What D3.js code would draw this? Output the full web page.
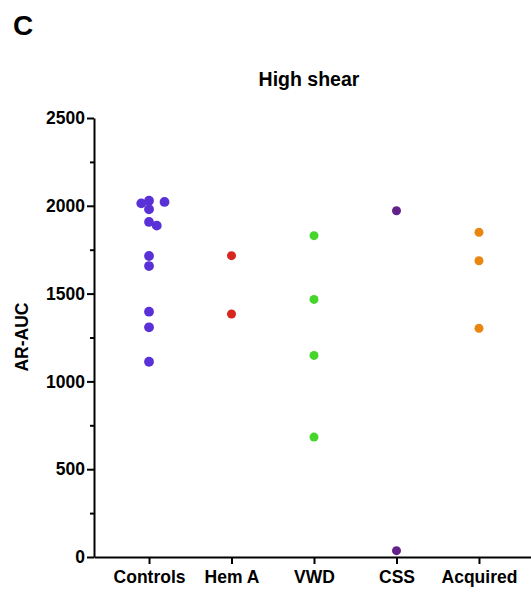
<!DOCTYPE html>
<html>
<head>
<meta charset="utf-8">
<script src="https://cdn.jsdelivr.net/npm/d3@7"></script>
<style>
  html, body { margin: 0; padding: 0; background: #fff; }
  svg { display: block; }
  text { font-family: "Liberation Sans", Arial, sans-serif; font-weight: bold; fill: #000; }
</style>
</head>
<body>
<svg id="chart" width="531" height="592"></svg>
<script>
// Groups on the x axis
const categories = ["Controls", "Hem A", "VWD", "CSS", "Acquired"];

// AR-AUC per subject, one array per group
const controls = [2029, 2022, 2014, 1980, 1908, 1887, 1714, 1657, 1397, 1308, 1112];
const hemA = [1716, 1384];
const vwd = [1830, 1467, 1148, 683];
const css = [1972, 36];
const acquired = [1849, 1687, 1302];

const groupValues = [controls, hemA, vwd, css, acquired];
const groupColors = ["#5a31d6", "#d6261d", "#46d62b", "#65218a", "#e8860f"];

// Axis ticks
const yTicks = [0, 500, 1000, 1500, 2000, 2500];
const yMinorTicks = [250, 750, 1250, 1750, 2250];

const svg = d3.select("#chart");

const x = d3.scalePoint()
  .domain(categories)
  .range([94, 534])
  .padding(0.667);

const y = d3.scaleLinear()
  .domain([0, 2500])
  .range([557, 118]);

// Panel letter and title
svg.append("text")
  .attr("x", 13).attr("y", 35)
  .style("font-size", "28px")
  .text("C");

svg.append("text")
  .attr("x", 309).attr("y", 86)
  .attr("text-anchor", "middle")
  .style("font-size", "19.5px")
  .text("High shear");

// Y axis with major and minor ticks
const yAxis = svg.append("g")
  .attr("transform", "translate(94,0)")
  .call(d3.axisLeft(y).tickValues(yTicks).tickFormat(d3.format("d"))
    .tickSize(7).tickSizeOuter(0).tickPadding(2));
yAxis.select(".domain").attr("stroke-width", 2);
yAxis.selectAll(".tick line").attr("stroke-width", 2);
yAxis.selectAll(".tick text")
  .style("font-size", "17.5px")
  .style("font-family", "'Liberation Sans', Arial, sans-serif")
  .style("font-weight", "bold");

const yMinor = svg.append("g")
  .attr("transform", "translate(94,0)")
  .call(d3.axisLeft(y).tickValues(yMinorTicks).tickSize(4).tickFormat(""));
yMinor.select(".domain").remove();
yMinor.selectAll(".tick line").attr("stroke-width", 2);

// X axis
const xAxis = svg.append("g")
  .attr("transform", "translate(0,557)")
  .call(d3.axisBottom(x).tickSize(7).tickSizeOuter(0));
xAxis.select(".domain").attr("stroke-width", 2);
xAxis.selectAll(".tick line").attr("stroke-width", 2);
xAxis.selectAll(".tick text")
  .attr("y", 26).attr("dy", 0)
  .style("font-size", "17.5px")
  .style("font-family", "'Liberation Sans', Arial, sans-serif")
  .style("font-weight", "bold");

// Y axis title
svg.append("text")
  .attr("transform", "translate(28,337) rotate(-90)")
  .attr("text-anchor", "middle")
  .style("font-size", "17.5px")
  .text("AR-AUC");

// Simple deterministic swarm: spread overlapping points sideways
const stepX = 7.75, minDist = 8;
function swarm(values, cx) {
  const placed = [];
  const out = new Array(values.length);
  const order = values.map((v, i) => i).sort((a, b) => values[b] - values[a]);
  for (const i of order) {
    const py = y(values[i]);
    for (let n = 0; n < 60; n++) {
      const off = n === 0 ? 0 : (n % 2 === 1 ? 1 : -1) * Math.ceil(n / 2) * stepX;
      const px = cx + off;
      if (placed.every(p => Math.hypot(p.x - px, p.y - py) >= minDist)) {
        placed.push({ x: px, y: py });
        out[i] = { x: px, y: py };
        break;
      }
    }
  }
  return out;
}

const dots = svg.append("g");
categories.forEach((cat, gi) => {
  const pts = swarm(groupValues[gi], x(cat));
  dots.selectAll(null)
    .data(pts)
    .enter()
    .append("circle")
    .attr("cx", d => d.x)
    .attr("cy", d => d.y)
    .attr("r", gi === 0 ? 4.9 : 4.5)
    .attr("fill", groupColors[gi]);
});
</script>
</body>
</html>
